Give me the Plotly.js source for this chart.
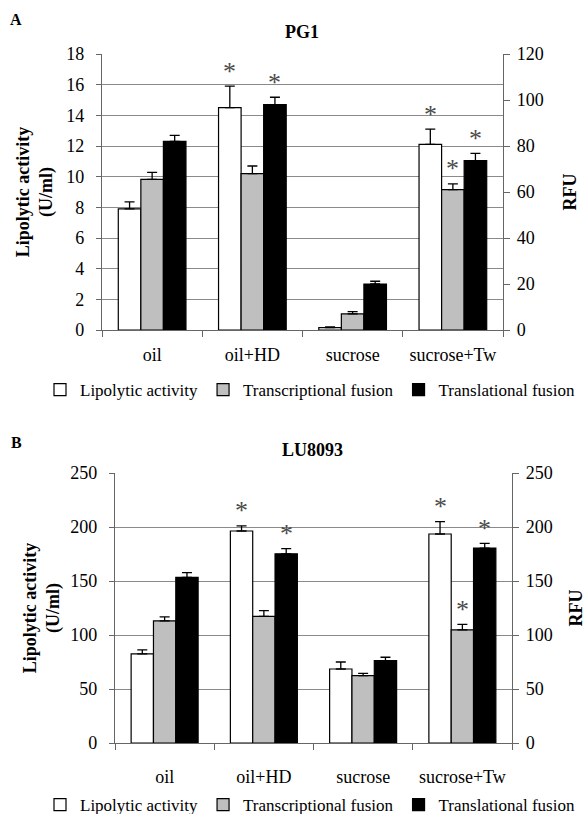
<!DOCTYPE html>
<html>
<head>
<meta charset="utf-8">
<script src="https://cdn.plot.ly/plotly-3.0.1.min.js"></script>
<style>html,body{margin:0;padding:0;background:#fff;}#chart{width:586px;height:814px;}</style>
</head>
<body>
<div id="chart"></div>
<script>
// ---------- data ----------
const categories = ["oil", "oil+HD", "sucrose", "sucrose+Tw"];
const seriesNames = ["Lipolytic activity", "Transcriptional fusion", "Translational fusion"];

// Panel A : PG1
const pg1Lipolytic      = [7.9, 14.5, 0.15, 12.1];
const pg1LipolyticErr   = [0.45, 1.4, 0.05, 1.0];
const pg1Transcript     = [65.5, 68.0, 7.0, 61.0];
const pg1TranscriptErr  = [3.0, 3.3, 1.0, 2.5];
const pg1Translat       = [82.0, 98.0, 20.0, 73.6];
const pg1TranslatErr    = [2.6, 3.2, 1.2, 3.2];
const pg1StarLipolytic  = [false, true, false, true];
const pg1StarTranscript = [false, false, false, true];
const pg1StarTranslat   = [false, true, false, true];

// Panel B : LU8093
const luLipolytic      = [82.6, 196.3, 68.5, 193.5];
const luLipolyticErr   = [3.7, 4.7, 6.5, 11.5];
const luTranscript     = [113.0, 117.2, 62.3, 104.8];
const luTranscriptErr  = [3.8, 5.3, 2.2, 5.0];
const luTranslat       = [153.4, 175.2, 76.3, 180.5];
const luTranslatErr    = [4.4, 4.7, 3.1, 4.4];
const luStarLipolytic  = [false, true, false, true];
const luStarTranscript = [false, false, false, true];
const luStarTranslat   = [false, true, false, true];

const noMinus = [0, 0, 0, 0];

// Axis ticks
const pg1LeftTicks  = [0, 2, 4, 6, 8, 10, 12, 14, 16, 18];
const pg1RightTicks = [0, 20, 40, 60, 80, 100, 120];
const luTicks       = [0, 50, 100, 150, 200, 250];

// ---------- styles ----------
const FONT = "Liberation Serif, Times New Roman, serif";
const fills = ["#ffffff", "#bfbfbf", "#000000"];
const barW = 0.225;
const offsets = [-0.3375, -0.1125, 0.1125];

function bar(i, y, err, xa, ya, legend) {
  return {
    type: "bar", name: seriesNames[i], x: categories, y: y,
    xaxis: xa, yaxis: ya, legend: legend, showlegend: true,
    width: barW, offset: offsets[i],
    marker: {color: fills[i], line: {color: "#000", width: 1.2}},
    error_y: {type: "data", symmetric: false, array: err, arrayminus: noMinus,
              color: "#000", thickness: 1.3, width: 5, visible: true},
    hoverinfo: "skip"
  };
}

const data = [
  bar(0, pg1Lipolytic, pg1LipolyticErr, "x", "y", "legend"),
  bar(1, pg1Transcript, pg1TranscriptErr, "x", "y2", "legend"),
  bar(2, pg1Translat, pg1TranslatErr, "x", "y2", "legend"),
  bar(0, luLipolytic, luLipolyticErr, "x2", "y3", "legend2"),
  bar(1, luTranscript, luTranscriptErr, "x2", "y4", "legend2"),
  bar(2, luTranslat, luTranslatErr, "x2", "y4", "legend2")
];

// asterisks from data
const annotations = [];
function stars(vals, errs, flags, i, xref, yref) {
  vals.forEach((v, k) => {
    if (!flags[k]) return;
    annotations.push({
      xref: xref, yref: yref, x: k + offsets[i] + barW / 2, y: v + errs[k],
      text: "*", showarrow: false, yanchor: "middle", yshift: 15,
      font: {family: FONT, size: 26, color: "#4a4a4a"}
    });
  });
}
stars(pg1Lipolytic, pg1LipolyticErr, pg1StarLipolytic, 0, "x", "y");
stars(pg1Transcript, pg1TranscriptErr, pg1StarTranscript, 1, "x", "y2");
stars(pg1Translat, pg1TranslatErr, pg1StarTranslat, 2, "x", "y2");
stars(luLipolytic, luLipolyticErr, luStarLipolytic, 0, "x2", "y3");
stars(luTranscript, luTranscriptErr, luStarTranscript, 1, "x2", "y4");
stars(luTranslat, luTranslatErr, luStarTranslat, 2, "x2", "y4");

const W = 586, H = 814;
function px(x) { return x / W; }
function py(y) { return (H - y) / H; }

annotations.push(
  {xref: "paper", yref: "paper", x: px(16), y: py(20), text: "<b>A</b>", showarrow: false,
   xanchor: "center", yanchor: "middle", font: {family: FONT, size: 16, color: "#000"}},
  {xref: "paper", yref: "paper", x: px(302), y: py(32), text: "<b>PG1</b>", showarrow: false,
   xanchor: "center", yanchor: "middle", font: {family: FONT, size: 18, color: "#000"}},
  {xref: "paper", yref: "paper", x: px(16), y: py(442), text: "<b>B</b>", showarrow: false,
   xanchor: "center", yanchor: "middle", font: {family: FONT, size: 16, color: "#000"}},
  {xref: "paper", yref: "paper", x: px(312), y: py(450), text: "<b>LU8093</b>", showarrow: false,
   xanchor: "center", yanchor: "middle", font: {family: FONT, size: 18, color: "#000"}}
);

const tickFont = {family: FONT, size: 18, color: "#000"};
const titleFont = {family: FONT, size: 18, color: "#000"};
const GRID = "#8a8a8a", LINE = "#666";

function xAxis(domain, anchor, standoff) {
  return {
    domain: domain, anchor: anchor, type: "category", range: [-0.5, 3.5],
    showline: true, linecolor: LINE, linewidth: 1.2, ticks: "outside", tickson: "boundaries",
    ticklen: 6, tickcolor: LINE, tickfont: tickFont, ticklabelstandoff: standoff,
    showgrid: false, zeroline: false, fixedrange: true
  };
}
function yLeft(domain, anchor, range, tickvals, titleText, standoff) {
  return {
    domain: domain, anchor: anchor, range: range, tickvals: tickvals,
    showline: true, linecolor: LINE, linewidth: 1.2, ticks: "outside", ticklen: 5, tickcolor: LINE,
    tickfont: tickFont, ticklabelstandoff: 8,
    showgrid: true, gridcolor: GRID, gridwidth: 1, zeroline: false,
    title: {text: titleText, font: titleFont, standoff: standoff}, fixedrange: true
  };
}
function yRight(overlay, anchor, range, tickvals) {
  return {
    overlaying: overlay, anchor: anchor, side: "right", range: range, tickvals: tickvals,
    showline: true, linecolor: LINE, linewidth: 1.2, ticks: "outside", ticklen: 6, tickcolor: LINE,
    tickfont: tickFont, ticklabelstandoff: 3,
    showgrid: false, zeroline: false,
    title: {text: "<b>RFU</b>", font: titleFont, standoff: 20}, fixedrange: true
  };
}

const domA = [py(330), py(54)];
const domB = [py(743), py(473)];

const legendFont = {family: FONT, size: 17, color: "#000"};

const layout = {
  width: W, height: H,
  margin: {l: 0, r: 0, t: 0, b: 0, autoexpand: false},
  paper_bgcolor: "#fff", plot_bgcolor: "#fff",
  font: {family: FONT, color: "#000"},
  barmode: "overlay",
  xaxis: xAxis([px(102), px(503)], "y", 8),
  yaxis: yLeft(domA, "x", [0, 18], pg1LeftTicks, "<b>Lipolytic activity<br>(U/ml)</b>", 8),
  yaxis2: yRight("y", "x", [0, 120], pg1RightTicks),
  xaxis2: xAxis([px(115), px(512)], "y3", 17),
  yaxis3: yLeft(domB, "x2", [0, 250], luTicks, "<b>Lipolytic activity<br>(U/ml)</b>", 5),
  yaxis4: yRight("y3", "x2", [0, 250], luTicks),
  legend: {orientation: "h", xref: "container", yref: "container",
           x: px(40), xanchor: "left", y: py(390), yanchor: "middle",
           itemwidth: 30, font: legendFont, bgcolor: "rgba(0,0,0,0)", traceorder: "normal"},
  legend2: {orientation: "h", xref: "container", yref: "container",
            x: px(40), xanchor: "left", y: py(805), yanchor: "middle",
            itemwidth: 30, font: legendFont, bgcolor: "rgba(0,0,0,0)", traceorder: "normal"},
  annotations: annotations,
  showlegend: true
};

Plotly.newPlot("chart", data, layout, {staticPlot: true, displayModeBar: false});
</script>
</body>
</html>
